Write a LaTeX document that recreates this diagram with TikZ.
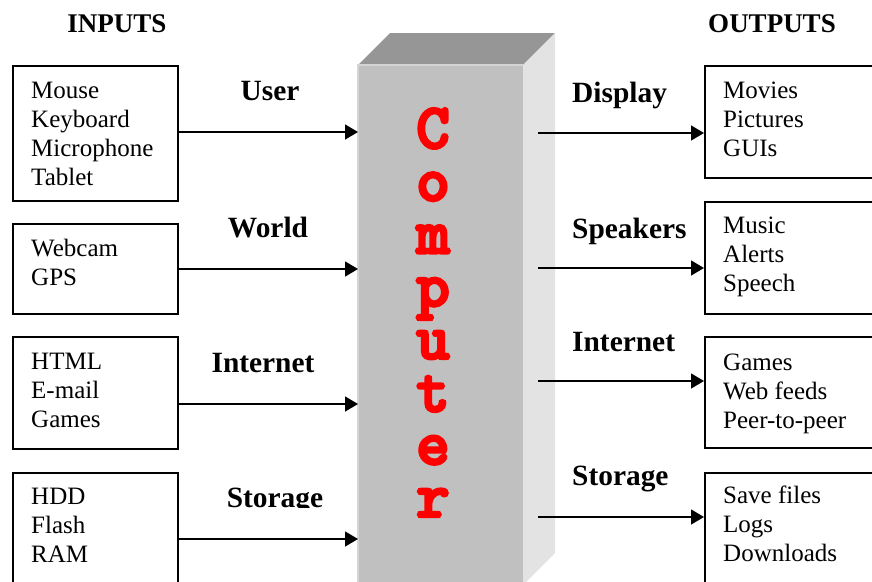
\documentclass[tikz,border=0pt]{standalone}
\usepackage{fontspec}
\setmainfont{Liberation Serif}
\newfontfamily\cmono{lmmonolt10-bold.otf}[FakeBold=4]
\usetikzlibrary{arrows.meta,calc}
\definecolor{frontgray}{HTML}{C0C0C0}
\definecolor{topgray}{HTML}{969696}
\definecolor{sidegray}{HTML}{E3E3E3}
\definecolor{edgegray}{HTML}{D4D4D4}
\begin{document}
\begin{tikzpicture}[x=1pt,y=-1pt,
  box/.style={draw=black, line width=1.5pt, rectangle, inner sep=0pt, anchor=north west, minimum width=165pt},
  obox/.style={draw=black, line width=1.5pt, rectangle, inner sep=0pt, anchor=north west, minimum width=180pt},
  item/.style={font=\fontsize{25}{29}\selectfont, align=left, inner sep=0pt, anchor=north west},
  lab/.style={font=\fontsize{29.4}{34}\selectfont\bfseries, inner sep=0pt, anchor=base},
  rlab/.style={font=\fontsize{29.4}{34}\selectfont\bfseries, inner sep=0pt, anchor=base west},
  head/.style={font=\fontsize{27}{32}\selectfont\bfseries, inner sep=0pt, anchor=base},
  arr/.style={line width=1.5pt, -{Triangle[length=13pt,width=15pt]}},
  letter/.style={text=red, font=\fontsize{64}{64}\selectfont\cmono, inner sep=0pt, anchor=base, text height=40pt, text depth=11pt},
]
\useasboundingbox (0,0) rectangle (872,581);
\clip (0,0) rectangle (872,581);

% computer block
\fill[topgray] (358,65) -- (390,33) -- (555,33) -- (523,65) -- cycle;
\fill[sidegray] (523,65) -- (555,33) -- (555,553) -- (523,585) -- cycle;
\node[fill=frontgray, minimum width=165pt, minimum height=520pt, inner sep=0pt, anchor=north west] (comp) at (358,65) {};
\draw[edgegray, line width=1.5pt] (comp.south west) -- (comp.north west) -- (comp.north east);

\foreach \ch [count=\i from 0] in {C,o,m,p,u,t,e,r} {
  \node[letter] (l\i) at (433,{148+52.7*\i}) {\ch};
}

% headings
\node[head] (hin) at (117,32) {INPUTS};
\node[head] (hout) at (772,32) {OUTPUTS};

% input boxes
\node[box, minimum height=135pt] (in1) at (12,65) {};
\node[box, minimum height=90pt] (in2) at (12,223) {};
\node[box, minimum height=112pt] (in3) at (12,336) {};
\node[box, minimum height=130pt] (in4) at (12,472) {};

\node[item] (tin1) at ($(in1.north west)+(19,12.7)$) {\strut Mouse\\Keyboard\\Microphone\\Tablet};
\node[item] (tin2) at ($(in2.north west)+(19,12.7)$) {\strut Webcam\\GPS};
\node[item] (tin3) at ($(in3.north west)+(19,12.7)$) {\strut HTML\\E-mail\\Games};
\node[item] (tin4) at ($(in4.north west)+(19,11.7)$) {\strut HDD\\Flash\\RAM};

% output boxes
\node[obox, minimum height=112pt] (out1) at (704,65) {};
\node[obox, minimum height=112pt] (out2) at (704,201) {};
\node[obox, minimum height=111pt] (out3) at (704,336) {};
\node[obox, minimum height=130pt] (out4) at (704,472) {};

\node[item] (tout1) at ($(out1.north west)+(19,12.7)$) {\strut Movies\\Pictures\\GUIs};
\node[item] (tout2) at ($(out2.north west)+(19,11.7)$) {\strut Music\\Alerts\\Speech};
\node[item] (tout3) at ($(out3.north west)+(19,13.7)$) {\strut Games\\Web feeds\\Peer-to-peer};
\node[item] (tout4) at ($(out4.north west)+(19,10.7)$) {\strut Save files\\Logs\\Downloads};

% labels
\node[lab] (luser) at (270,100) {User};
\node[lab] (lworld) at (268,237) {World};
\node[lab] (linet) at (263,372) {Internet};
\begin{scope}
  \clip (180,460) rectangle (356,507);
  \node[lab] (lstor) at (275,507.5) {Storage};
\end{scope}
\node[rlab] (rdisp) at (572,102) {Display};
\node[rlab] (rspk) at (572,238) {Speakers};
\node[rlab] (rinet) at (572,351) {Internet};
\node[rlab] (rstor) at (572,485) {Storage};

% arrow heights
\coordinate (ya1) at (0,132);
\coordinate (ya2) at (0,269);
\coordinate (ya3) at (0,404);
\coordinate (ya4) at (0,539);
\coordinate (yb1) at (0,133);
\coordinate (yb2) at (0,268);
\coordinate (yb3) at (0,381);
\coordinate (yb4) at (0,517);
\coordinate (cs) at ($(comp.east)+(15,0)$);

\draw[arr] (in1.east |- ya1) -- (comp.west |- ya1);
\draw[arr] (in2.east |- ya2) -- (comp.west |- ya2);
\draw[arr] (in3.east |- ya3) -- (comp.west |- ya3);
\draw[arr] (in4.east |- ya4) -- (comp.west |- ya4);

\draw[arr] (cs |- yb1) -- (out1.west |- yb1);
\draw[arr] (cs |- yb2) -- (out2.west |- yb2);
\draw[arr] (cs |- yb3) -- (out3.west |- yb3);
\draw[arr] (cs |- yb4) -- (out4.west |- yb4);
\end{tikzpicture}
\end{document}
